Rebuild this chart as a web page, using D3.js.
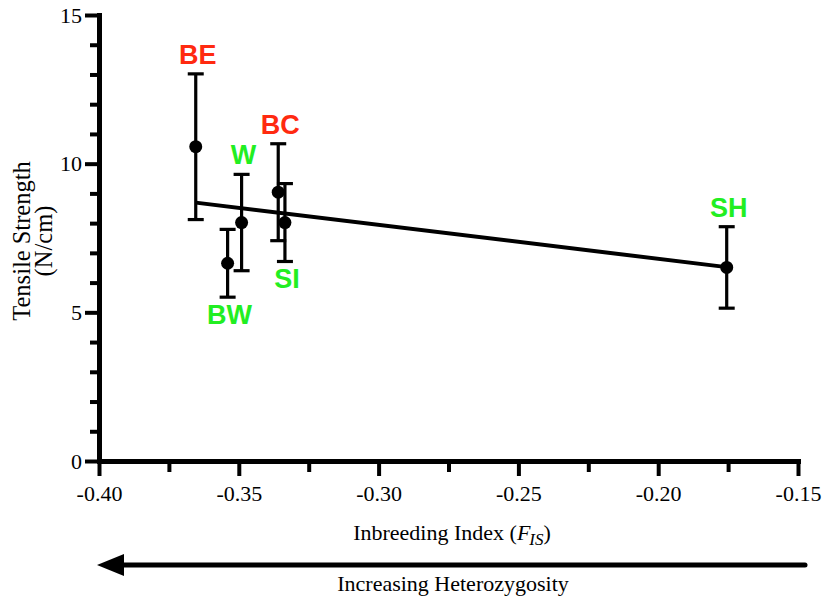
<!DOCTYPE html>
<html>
<head>
<meta charset="utf-8">
<script src="https://cdn.jsdelivr.net/npm/d3@7"></script>
<style>
  html, body { margin: 0; padding: 0; background: #fff; }
  svg { display: block; }
</style>
</head>
<body>
<svg id="chart" width="836" height="600"></svg>
<script>
// ---- data ----
const populations = ["BE", "W", "BW", "BC", "SI", "SH"];
const fisValues = [-0.3654, -0.349, -0.354, -0.3359, -0.3335, -0.1755];
const strengthMeans = [10.57, 8.02, 6.65, 9.04, 8.02, 6.51];
const strengthErrors = [2.45, 1.62, 1.14, 1.63, 1.31, 1.37];
const labelSide = ["above", "above", "below", "above", "below", "above"];
const labelGroup = ["red", "green", "green", "red", "green", "green"];
const fitX = [-0.3654, -0.1755];
const fitY = [8.69, 6.52];
const xTickLabels = ["-0.40", "-0.35", "-0.30", "-0.25", "-0.20", "-0.15"];
const xMajorTicks = [-0.40, -0.35, -0.30, -0.25, -0.20, -0.15];
const xMinorTicks = [-0.375, -0.325, -0.275, -0.225, -0.175];
const yMajorTicks = [0, 5, 10, 15];
const yMinorTicks = [1, 2, 3, 4, 6, 7, 8, 9, 11, 12, 13, 14];

const colors = { red: "#ff2a10", green: "#22ee22" };
const serif = "'Liberation Serif', 'Times New Roman', serif";
const sans = "'Liberation Sans', Arial, sans-serif";

const svg = d3.select("#chart");
const x = d3.scaleLinear().domain([-0.40, -0.15]).range([99, 798]);
const y = d3.scaleLinear().domain([0, 15]).range([461, 15]);

// ---- axes ----
function styleAxis(g, domainW, tickW) {
  g.select(".domain").attr("stroke", "#000").attr("stroke-width", domainW).attr("stroke-linecap", "square");
  g.selectAll(".tick line").attr("stroke", "#000").attr("stroke-width", tickW);
  g.selectAll(".tick text").attr("fill", "#000").style("font-family", serif).style("font-size", "22px");
}

// minor ticks first
svg.append("g").attr("transform", `translate(${x.range()[0]},0)`)
  .call(d3.axisLeft(y).tickValues(yMinorTicks).tickSize(9).tickSizeOuter(0).tickFormat(""))
  .call(g => { styleAxis(g, 5, 4); });
svg.append("g").attr("transform", `translate(0,${y.range()[0]})`)
  .call(d3.axisBottom(x).tickValues(xMinorTicks).tickSize(11).tickSizeOuter(0).tickFormat(""))
  .call(g => { styleAxis(g, 5, 4); });

// major ticks
svg.append("g").attr("transform", `translate(${x.range()[0]},0)`)
  .call(d3.axisLeft(y).tickValues(yMajorTicks).tickSize(14).tickPadding(3).tickSizeOuter(0).tickFormat(d3.format("d")))
  .call(g => { styleAxis(g, 5, 4); });
svg.append("g").attr("transform", `translate(0,${y.range()[0]})`)
  .call(d3.axisBottom(x).tickValues(xMajorTicks).tickSize(15).tickPadding(9).tickSizeOuter(0)
    .tickFormat((d, i) => xTickLabels[i]))
  .call(g => { styleAxis(g, 5, 4); });

// ---- axis titles ----
const yTitle = svg.append("text")
  .attr("transform", `translate(30,241) rotate(-90)`)
  .attr("text-anchor", "middle")
  .style("font-family", serif).style("font-size", "24.5px").attr("fill", "#000");
yTitle.append("tspan").attr("x", 0).attr("dy", 0).text("Tensile Strength");
yTitle.append("tspan").attr("x", 0).attr("dy", 22).text("(N/cm)");

const xTitle = svg.append("text")
  .attr("x", 452).attr("y", 540)
  .attr("text-anchor", "middle")
  .style("font-family", serif).style("font-size", "22px").attr("fill", "#000");
xTitle.append("tspan").text("Inbreeding Index (");
xTitle.append("tspan").style("font-style", "italic").text("F");
xTitle.append("tspan").style("font-style", "italic").style("font-size", "17px").attr("dy", 5).attr("dx", -1).text("IS");
xTitle.append("tspan").attr("dy", -5).text(")");

// ---- arrow ----
const arrowY = 565;
const tipX = x.range()[0] - 2;
const endX = x.range()[1] + 7;
svg.append("line")
  .attr("x1", tipX + 20).attr("x2", endX).attr("y1", arrowY).attr("y2", arrowY)
  .attr("stroke", "#000").attr("stroke-width", 5).attr("stroke-linecap", "round");
svg.append("path")
  .attr("d", `M${tipX},${arrowY} L${tipX + 27},${arrowY - 11} L${tipX + 27},${arrowY + 11} Z`)
  .attr("fill", "#000");
svg.append("text")
  .attr("x", 453).attr("y", 591).attr("text-anchor", "middle")
  .style("font-family", serif).style("font-size", "22px").attr("fill", "#000")
  .text("Increasing Heterozygosity");

// ---- error bars ----
const data = populations.map((p, i) => ({
  name: p, fx: fisValues[i], m: strengthMeans[i], e: strengthErrors[i],
  side: labelSide[i], color: colors[labelGroup[i]]
}));
const capHalf = 8;
const eb = svg.append("g").attr("stroke", "#000").attr("stroke-width", 3.2);
data.forEach(d => {
  const cx = x(d.fx);
  eb.append("line").attr("x1", cx).attr("x2", cx).attr("y1", y(d.m + d.e)).attr("y2", y(d.m - d.e));
  eb.append("line").attr("x1", cx - capHalf).attr("x2", cx + capHalf).attr("y1", y(d.m + d.e)).attr("y2", y(d.m + d.e));
  eb.append("line").attr("x1", cx - capHalf).attr("x2", cx + capHalf).attr("y1", y(d.m - d.e)).attr("y2", y(d.m - d.e));
});

// ---- regression line ----
svg.append("path")
  .datum(fitX.map((v, i) => [v, fitY[i]]))
  .attr("d", d3.line().x(d => x(d[0])).y(d => y(d[1])))
  .attr("fill", "none").attr("stroke", "#000").attr("stroke-width", 4);

// ---- points ----
svg.append("g").selectAll("circle").data(data).join("circle")
  .attr("cx", d => x(d.fx)).attr("cy", d => y(d.m)).attr("r", 6.5).attr("fill", "#000");

// ---- labels ----
svg.append("g").selectAll("text").data(data).join("text")
  .attr("x", d => x(d.fx) + 2)
  .attr("y", d => d.side === "above" ? y(d.m + d.e) - 10 : y(d.m - d.e) + 27)
  .attr("text-anchor", "middle")
  .style("font-family", sans).style("font-weight", "bold").style("font-size", "27px")
  .attr("fill", d => d.color)
  .text(d => d.name);
</script>
</body>
</html>
